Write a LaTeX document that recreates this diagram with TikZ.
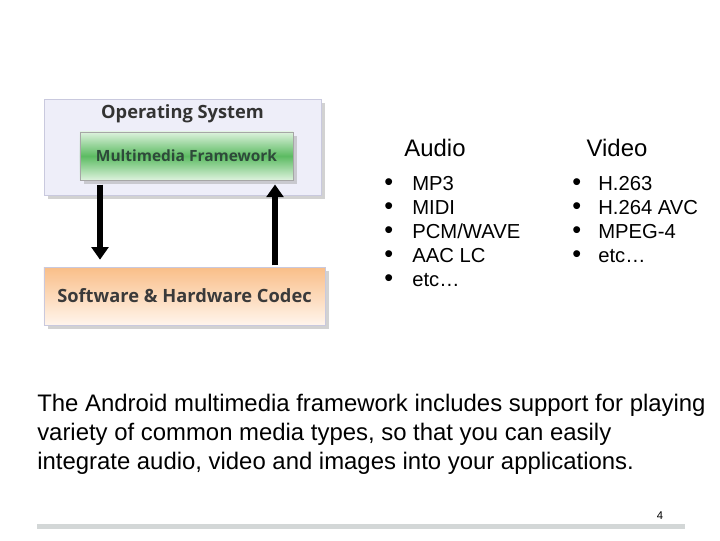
\documentclass[tikz,border=0pt]{standalone}
\usepackage{fontspec}
\setmainfont{Liberation Sans}
\newfontfamily\boxfont{Open Sans}
\usepackage{xcolor}
\usetikzlibrary{arrows.meta,positioning,shadows}

\definecolor{oslav}{HTML}{EEEEF9}
\definecolor{osline}{HTML}{C9C9DE}
\definecolor{mfgreen}{HTML}{5CBB62}
\definecolor{mfpale}{HTML}{DDF2DD}
\definecolor{mftext}{HTML}{2E4A3A}
\definecolor{cdorange}{HTML}{F9BE88}
\definecolor{cdpale}{HTML}{FFF5EC}
\definecolor{cdtext}{HTML}{3A3A3A}
\definecolor{barfill}{HTML}{D3D7D7}

\tikzset{
  layer/.style={draw=osline, inner sep=0pt,
    drop shadow={shadow xshift=0.09cm, shadow yshift=-0.09cm, fill=black!35}},
  boxtitle/.style={font=\boxfont\bfseries\fontsize{13}{15}\selectfont},
  flow/.style={line width=3.6pt, -{Triangle[length=9pt,width=12pt]}},
  heading/.style={font=\fontsize{17}{20}\selectfont, anchor=base},
  item/.style={font=\fontsize{14.4}{17}\selectfont, anchor=base west, inner sep=0pt},
  body/.style={font=\fontsize{17}{20}\selectfont, anchor=base west, inner sep=0pt}
}
\newcommand{\dotmark}{\raisebox{-0.3pt}{\scalebox{1.25}{•}}}

\begin{document}
\begin{tikzpicture}[x=0.025cm,y=-0.025cm]
\useasboundingbox (0,0) rectangle (720,540);

% diagram on the left
\node[layer, fill=oslav, minimum width=6.925cm, minimum height=2.4cm] (os) at (182.5,147) {};
\node[boxtitle, text=black!80] (ostitle) at (182.5,114) {Operating System};
\node[layer, draw=black!35, top color=mfpale, bottom color=mfpale, middle color=mfgreen,
  minimum width=5.325cm, minimum height=1.2cm, boxtitle, font=\boxfont\bfseries\fontsize{11}{13}\selectfont,
  text=mftext] (mf) at (186.5,156) {Multimedia Framework};
\node[layer, draw=osline, top color=cdorange, bottom color=cdpale,
  minimum width=7.025cm, minimum height=1.45cm, boxtitle, text=cdtext] (codec) at (184.5,296) {Software \& Hardware Codec};

\coordinate (dn) at (100,0);
\coordinate (up) at (275,0);
\draw[flow, shorten <=3pt, shorten >=5pt] (dn |- mf.south) -- (dn |- codec.north);
\draw[flow, shorten <=1pt, shorten >=3pt] (up |- codec.north) -- (up |- mf.south);

% formats
\node[heading] (audio) at (435,156) {Audio};
\node[heading] (video) at (617,156) {Video};
\foreach \t [count=\i] in {MP3,MIDI,PCM/WAVE,AAC LC,etc…}
  \node[item] (aud\i) at (384,166+24*\i) {\makebox[0.7cm][l]{\dotmark}\t};
\foreach \t [count=\i] in {H.263,H.264 AVC,MPEG-4,etc…}
  \node[item] (vid\i) at (572,166+24*\i) {\makebox[0.65cm][l]{\dotmark}\t};

% text below
\node[body] (line1) at (37,411) {The Android multimedia framework includes support for playing};
\node[body] (line2) at (37,440) {variety of common media types, so that you can easily};
\node[body] (line3) at (37,469) {integrate audio, video and images into your applications.};

\node[font=\fontsize{8}{10}\selectfont, anchor=base] (page) at (660,519) {4};
\fill[barfill] (37,524) rectangle (685,529);
\end{tikzpicture}
\end{document}
